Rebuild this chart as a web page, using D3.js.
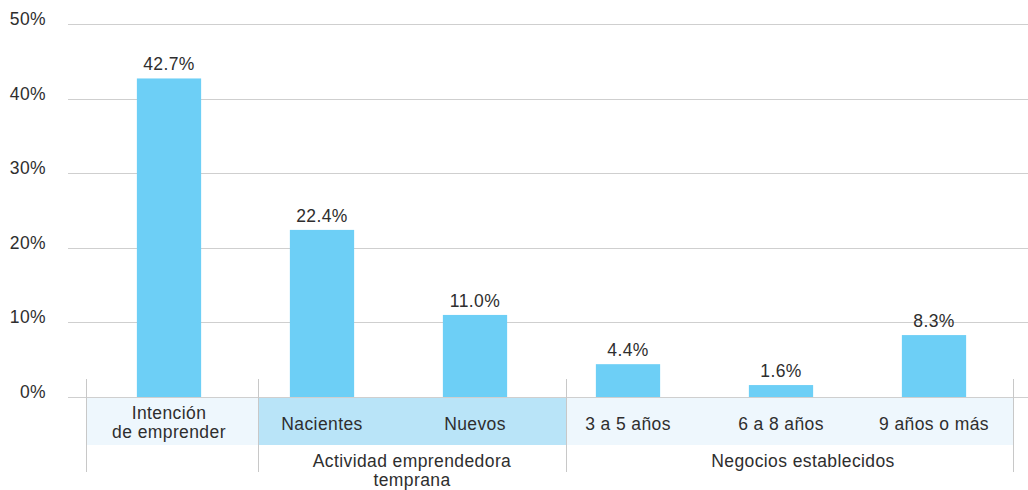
<!DOCTYPE html>
<html>
<head>
<meta charset="utf-8">
<script src="https://cdn.jsdelivr.net/npm/d3@7/dist/d3.min.js"></script>
<style>
  html, body { margin: 0; padding: 0; background: #fff; }
  svg { display: block; }
  text { font-family: "Liberation Sans", Arial, Helvetica, sans-serif; fill: #2e2e2e; letter-spacing: 0.4px; }
</style>
</head>
<body>
<svg id="chart" width="1028" height="490"></svg>
<script>
// ---- data ----
const categories = ["Intención\nde emprender", "Nacientes", "Nuevos", "3 a 5 años", "6 a 8 años", "9 años o más"];
const values = [42.7, 22.4, 11.0, 4.4, 1.6, 8.3];
const valueLabels = ["42.7%", "22.4%", "11.0%", "4.4%", "1.6%", "8.3%"];
const yTicks = [0, 10, 20, 30, 40, 50];
const yTickLabels = ["0%", "10%", "20%", "30%", "40%", "50%"];
const groupNames = ["", "Actividad emprendedora\ntemprana", "Negocios establecidos"];
const groupMembers = [[0], [1, 2], [3, 4, 5]];

// ---- layout ----
const svg = d3.select("#chart");
const gridLeft = 68, gridRight = 1028;
const y = d3.scaleLinear().domain([0, 50]).range([397, 24]);
const x = d3.scaleBand().domain(categories).range([92.5, 1010.5]).paddingInner(0.58).paddingOuter(0.29);
const groupBounds = [[86, 258], [258, 566], [566, 1013]];
const groupFill = ["#eef7fd", "#b9e4f8", "#eef7fd"];
const groupLabelX = [172, 412, 803];

// category band backgrounds
svg.append("g").selectAll("rect").data(groupBounds).join("rect")
  .attr("x", d => d[0]).attr("y", y(0)).attr("width", d => d[1] - d[0]).attr("height", 48)
  .attr("fill", (d, i) => groupFill[i]);

// gridlines via axis
const yAxis = d3.axisLeft(y).tickValues(yTicks).tickSize(-(gridRight - gridLeft)).tickFormat("");
const ga = svg.append("g").attr("transform", `translate(${gridLeft},0)`).call(yAxis);
ga.select(".domain").remove();
ga.selectAll(".tick line").attr("stroke", "#cfcfcf").attr("stroke-width", 1).attr("shape-rendering", "crispEdges");

// tick labels
svg.append("g").selectAll("text").data(yTicks).join("text")
  .attr("x", 46).attr("y", d => y(d) + 1)
  .attr("text-anchor", "end").attr("font-size", 17.5)
  .text((d, i) => yTickLabels[i]);

// group separators
const seps = [86, 258, 566, 1013];
svg.append("g").selectAll("line").data(seps).join("line")
  .attr("x1", d => d).attr("x2", d => d).attr("y1", 379).attr("y2", 472)
  .attr("stroke", "#c8c8c8").attr("stroke-width", 1).attr("shape-rendering", "crispEdges");

// bars
svg.append("g").selectAll("rect").data(values).join("rect")
  .attr("x", (d, i) => x(categories[i])).attr("width", x.bandwidth())
  .attr("y", d => y(d)).attr("height", d => y(0) - y(d))
  .attr("fill", "#6dcff6");

// value labels
svg.append("g").selectAll("text").data(values).join("text")
  .attr("x", (d, i) => x(categories[i]) + x.bandwidth() / 2)
  .attr("y", d => y(d) - 8)
  .attr("text-anchor", "middle").attr("font-size", 17.5)
  .text((d, i) => valueLabels[i]);

// category labels
const catG = svg.append("g");
categories.forEach((c, i) => {
  const lines = c.split("\n");
  const cx = x(c) + x.bandwidth() / 2;
  const t = catG.append("text").attr("text-anchor", "middle").attr("font-size", 17.5);
  const baseY = lines.length === 1 ? 430 : 419;
  lines.forEach((l, j) => t.append("tspan").attr("x", cx).attr("y", baseY + j * 19).text(l));
});

// group labels
const grpG = svg.append("g");
groupNames.forEach((g, i) => {
  if (!g) return;
  const t = grpG.append("text").attr("text-anchor", "middle").attr("font-size", 17.5);
  g.split("\n").forEach((l, j) => t.append("tspan").attr("x", groupLabelX[i]).attr("y", 467 + j * 19).text(l));
});
</script>
</body>
</html>
